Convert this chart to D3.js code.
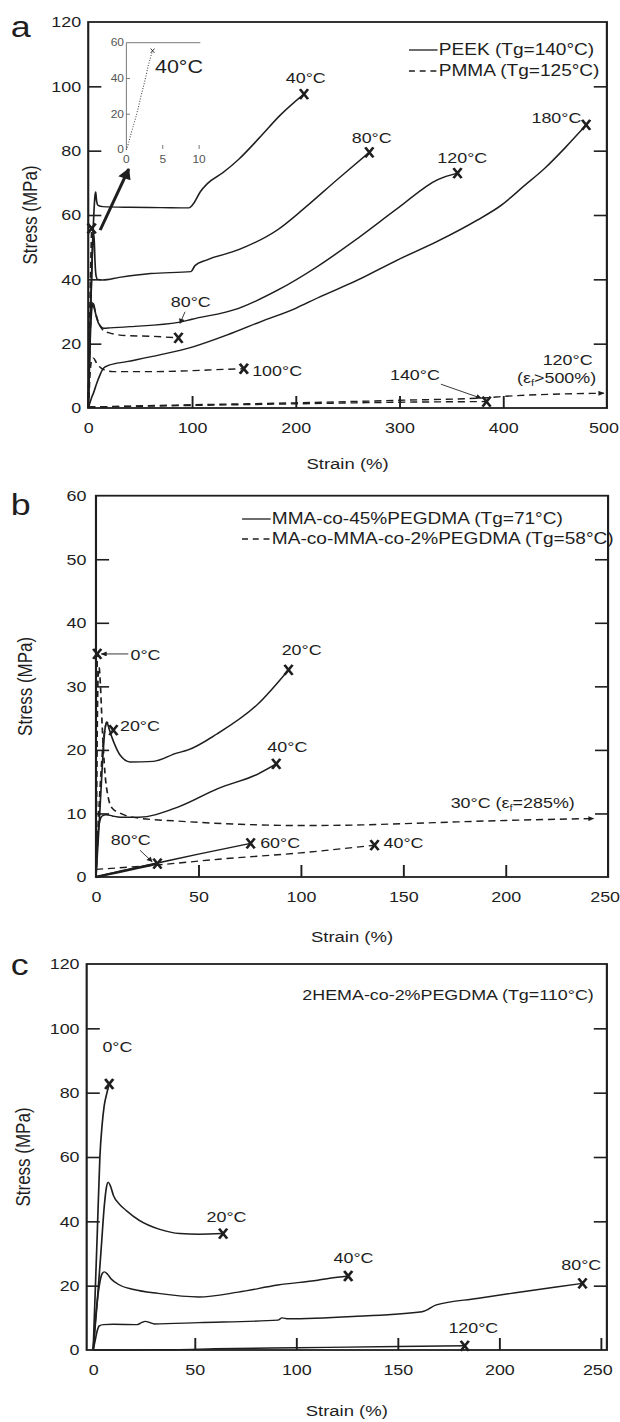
<!DOCTYPE html>
<html>
<head>
<meta charset="utf-8">
<script src="https://cdn.jsdelivr.net/npm/d3@7"></script>
<style>
  html, body { margin: 0; padding: 0; background: #fff; }
  svg { display: block; }
</style>
</head>
<body>
<div id="chart"></div>
<script>
// ---- panel a : PEEK (solid) and PMMA (dashed), points are [strain %, stress MPa]
const peek40 = [[0,0],[2,27],[4,50],[5.5,61],[6.5,66],[7.2,67.2],[8,64.5],[9.5,63],[14,62.6],[40,62.4],[70,62.3],[97,62.2],[102,63.8],[108,67.2],[115,69.8],[130,73.2],[145,77.3],[165,84],[185,91],[208,97.6]];
const peek80 = [[0,0],[2,27],[4,48],[5,54.5],[5.8,52],[6.6,45],[7.6,41],[9,40],[14,39.8],[30,40.6],[60,41.8],[99,42.4],[103,44.3],[114,46],[145,49.2],[183,55.5],[208,62],[240,71],[271,79.5]];
const peek120 = [[0,0],[2,22],[3.5,31],[5,32.5],[7,29.5],[10,26.3],[15,24.8],[21,24.9],[40,25.3],[87,26.6],[100,27.6],[145,31],[183,36.7],[221,44],[260,52.8],[298,62],[337,71],[356,73]];
const peek180 = [[0,0],[1,1],[3,3],[5,4.6],[8,7.5],[11,10],[14.5,12.3],[20,13.3],[37,14.4],[69,16.5],[101,19],[134,22.7],[166,26.8],[200,31],[221,34.2],[260,39.8],[298,46],[336,51.7],[375,58.4],[398,63],[420,69],[440,74.5],[460,81],[480,88]];
const pmma40 = [[0,0],[1,19],[2,38],[3.3,55.8]];
const pmma80 = [[0,0],[1.5,20],[3,31],[4,33],[5,32],[7,29.5],[10,26.5],[15,24],[21,23.3],[37,22.5],[60,22.3],[87,21.8]];
const pmma100 = [[0,0],[1,6],[2,12],[3.5,15],[5,15.5],[8,14],[12,12.5],[18,11.6],[24,11.3],[60,11.3],[100,11.6],[130,12],[150,12.2]];
const pmma120 = [[0,0.3],[100,1],[200,1.6],[300,2.4],[385,3.2],[400,3.6],[497,4.6]];
const pmma140 = [[0,0.3],[100,0.8],[200,1.3],[300,1.8],[384,2]];
const inset40 = [[0,0],[0.3,4],[0.7,10],[1.2,17],[1.6,23],[2,30],[2.5,38],[3,47],[3.6,55.5]];

// ---- panel b : MMA-co-45%PEGDMA (solid), MA-co-MMA-co-2%PEGDMA (dashed)
const mma20 = [[0,0],[1.5,8],[3,17],[4.3,23],[5.2,24.4],[6.5,23.2],[8,21.8],[9.2,20.8],[11.7,19.2],[16.6,18.1],[28,18.2],[39.4,19.5],[45,20],[59,22.5],[79,27.2],[94,32.6]];
const mma40 = [[0,0],[0.5,4],[1,7],[2,9],[3,9.6],[5,9.8],[8,9.6],[12,9.4],[21,9.4],[40,11],[59.5,13.9],[79,16.2],[88,17.8]];
const mma60 = [[0,0],[10,0.8],[30,2.2],[50,3.6],[75.5,5.3]];
const mma80 = [[0,0],[10,0.7],[20,1.4],[30,2.1]];
const ma0 = [[0,0],[0.2,14],[0.4,27],[0.6,35.1]];
const ma20 = [[0,0],[2,14],[4,22.5],[5.5,24.3],[7,23.8],[8.5,23.1]];
const ma30 = [[0,0],[0.5,20],[1,31],[1.5,33],[2.2,30],[3,24],[4.4,16.3],[6,12.5],[8,10.8],[12,10],[20,9.3],[40,8.8],[70,8.3],[100,8.1],[130,8.2],[160,8.5],[200,8.9],[243,9.2]];
const ma40 = [[0,1.2],[30,1.9],[60,2.8],[100,3.8],[136,5]];

// ---- panel c : 2HEMA-co-2%PEGDMA
const hema0 = [[0,0],[1,18],[2,36],[3.3,60],[4.4,70],[5.4,75.8],[6.8,80],[7.9,82.7]];
const hema20 = [[0,0],[2,15],[4,32],[5.5,45],[6.5,50.5],[7.4,52.2],[8.5,51],[10,48],[13,45.3],[16.4,43.3],[22.7,40.3],[32.8,37.5],[42.7,36.2],[52,36],[64,36.2]];
const hema40 = [[0,0],[1.5,12],[3,20],[4.5,23.8],[5.5,24.3],[7,23.6],[9,22],[13,20.2],[20,18.8],[32,17.6],[52,16.5],[71.5,18],[91,20.2],[110.6,21.7],[116.5,22.3],[125.6,23]];
const hema80 = [[0,0],[1,3],[2,6],[3,7.5],[5,7.9],[10,8],[21.7,7.9],[24,8.6],[25.6,8.9],[28,8.5],[30,8.1],[52,8.5],[91,9.3],[93,10],[96,9.7],[130,10.5],[162,11.9],[169,14],[189,16],[208,17.8],[228,19.6],[241,20.7]];
const hema120 = [[0,0],[40,0.1],[60,0.4],[100,0.7],[150,1.1],[183,1.3]];

// tick values
const xLabelsA = [0,100,200,300,400,500], yLabelsA = [0,20,40,60,80,100,120];
const xTicksA = [100,200,300,400], yTicksA = [20,40,60,80,100];
const xLabelsB = [0,50,100,150,200,250], yLabelsB = [0,10,20,30,40,50,60];
const xTicksB = [50,100,150,200], yTicksB = [10,20,30,40,50];
const xLabelsC = [0,50,100,150,200,250], yLabelsC = [0,20,40,60,80,100,120];
const xTicksC = [50,100,150,200,250], yTicksC = [20,40,60,80,100];
const insetX = [0,5,10], insetY = [0,20,40,60];

// the figure is drawn 520 wide and stretched to 620, like the source scan
const W = 520, H = 1422;
const FONT = "'Liberation Sans', Arial, Helvetica, sans-serif";
const INK = "#1e1e1e";

const svg = d3.select("#chart").append("svg")
  .attr("width", 620).attr("height", H)
  .attr("viewBox", `0 0 ${W} ${H}`)
  .attr("preserveAspectRatio", "none")
  .style("font-family", FONT);

svg.append("rect").attr("width", W).attr("height", H).attr("fill", "#fff");

const defs = svg.append("defs");
function arrowMarker(id, w, h) {
  defs.append("marker")
    .attr("id", id)
    .attr("viewBox", "0 0 10 10")
    .attr("refX", 9).attr("refY", 5)
    .attr("markerWidth", w).attr("markerHeight", h)
    .attr("markerUnits", "userSpaceOnUse")
    .attr("orient", "auto")
    .append("path").attr("d", "M0,0L10,5L0,10z").attr("fill", INK);
}
arrowMarker("ah", 7, 5);
arrowMarker("ahBig", 13, 11);

function panel(o) {
  const x = d3.scaleLinear().domain(o.xd).range([o.l, o.r]);
  const y = d3.scaleLinear().domain(o.yd).range([o.b, o.t]);
  const g = svg.append("g");

  const styleAxis = sel => {
    sel.select(".domain").remove();
    sel.selectAll("text").style("font-family", FONT).style("font-size", "15px").attr("fill", INK);
    sel.selectAll("line").attr("stroke", INK).attr("stroke-width", 1.6);
  };
  // tick labels
  g.append("g").attr("transform", `translate(${o.l},0)`)
    .call(d3.axisLeft(y).tickValues(o.yl).tickSize(0).tickPadding(o.yPad))
    .call(styleAxis);
  const xa = g.append("g").attr("transform", `translate(0,${o.b})`)
    .call(d3.axisBottom(x).tickValues(o.xl).tickSize(0).tickPadding(14))
    .call(styleAxis);
  // last label sits on the figure edge, keep it inside
  xa.selectAll(".tick:last-of-type text").attr("dx", -3);

  // inward ticks
  g.append("g").attr("transform", `translate(${o.l},0)`)
    .call(d3.axisLeft(y).tickValues(o.yt).tickSizeInner(-11).tickSizeOuter(0).tickFormat(""))
    .call(styleAxis);
  g.append("g").attr("transform", `translate(${o.r},0)`)
    .call(d3.axisRight(y).tickValues(o.yt).tickSizeInner(-11).tickSizeOuter(0).tickFormat(""))
    .call(styleAxis);
  g.append("g").attr("transform", `translate(0,${o.b})`)
    .call(d3.axisBottom(x).tickValues(o.xt).tickSizeInner(-12).tickSizeOuter(0).tickFormat(""))
    .call(styleAxis);

  g.append("rect")
    .attr("x", o.l).attr("y", o.t)
    .attr("width", o.r - o.l).attr("height", o.b - o.t)
    .attr("fill", "none").attr("stroke", INK).attr("stroke-width", 1.8);

  g.append("text")
    .attr("x", (o.l + o.r) / 2).attr("y", o.b + o.xtOff)
    .attr("text-anchor", "middle").attr("font-size", 15.5).attr("fill", INK)
    .text("Strain (%)");
  g.append("text")
    .attr("transform", `translate(${o.ytX},${(o.t + o.b) / 2}) rotate(-90)`)
    .attr("text-anchor", "middle").attr("font-size", 17).attr("fill", INK)
    .text("Stress (MPa)");
  g.append("text")
    .attr("x", 9).attr("y", o.letterY)
    .attr("font-size", 30).attr("fill", INK)
    .text(o.letter);

  const line = d3.line().x(d => x(d[0])).y(d => y(d[1])).curve(d3.curveMonotoneX);
  return { g, x, y, line };
}

function curve(p, data, dashed, opts = {}) {
  const path = p.g.append("path")
    .datum(data)
    .attr("d", p.line)
    .attr("fill", "none")
    .attr("stroke", INK)
    .attr("stroke-width", opts.w || 1.4)
    .attr("stroke-dasharray", dashed ? "6,4" : null);
  if (opts.arrow) path.attr("marker-end", "url(#ah)");
  if (!opts.arrow && opts.mark !== false) {
    const last = data[data.length - 1];
    xMark(p.g, p.x(last[0]), p.y(last[1]));
  }
  return path;
}

function xMark(g, px, py, rx = 3.4, ry = 5, w = 2.3) {
  g.append("path")
    .attr("d", `M${px - rx},${py - ry}L${px + rx},${py + ry}M${px + rx},${py - ry}L${px - rx},${py + ry}`)
    .attr("stroke", INK).attr("stroke-width", w).attr("fill", "none");
}

function label(g, px, py, txt, anchor = "start", size = 15) {
  return g.append("text")
    .attr("x", px).attr("y", py)
    .attr("text-anchor", anchor)
    .attr("font-size", size).attr("fill", INK)
    .text(txt);
}

function subLabel(g, px, py, pre, post, anchor, size = 15) {
  const t = g.append("text")
    .attr("x", px).attr("y", py)
    .attr("text-anchor", anchor)
    .attr("font-size", size).attr("fill", INK);
  t.append("tspan").text(pre);
  t.append("tspan").attr("font-size", size * 0.62).attr("dy", 3).text("f");
  t.append("tspan").attr("dy", -3).text(post);
  return t;
}

function arrow(p, from, to, big = false) {
  p.g.append("line")
    .attr("x1", p.x(from[0])).attr("y1", p.y(from[1]))
    .attr("x2", p.x(to[0])).attr("y2", p.y(to[1]))
    .attr("stroke", INK)
    .attr("stroke-width", big ? 2.6 : 0.8)
    .attr("marker-end", big ? "url(#ahBig)" : "url(#ah)");
}

function legendRow(g, x0, yy, dashed, txt, size) {
  g.append("line")
    .attr("x1", x0).attr("x2", x0 + 24).attr("y1", yy).attr("y2", yy)
    .attr("stroke", INK).attr("stroke-width", 1.3)
    .attr("stroke-dasharray", dashed ? "5,4" : null);
  label(g, x0 + 25, yy + 5.5, txt, "start", size);
}

// =========================
// PANEL A
// =========================
const pa = panel({
  xd: [0, 500], yd: [0, 120], l: 74, r: 509, t: 22, b: 408,
  xl: xLabelsA, yl: yLabelsA, xt: xTicksA, yt: yTicksA,
  yPad: 6, xtOff: 61, ytX: 31, letter: "a", letterY: 37
});

[peek40, peek80, peek120, peek180].forEach(d => curve(pa, d, false));
[pmma40, pmma80, pmma100, pmma140].forEach(d => curve(pa, d, true));
curve(pa, pmma120, true, { arrow: true });

label(pa.g, pa.x(208) + 1.5, pa.y(97.6) - 11, "40°C", "middle");
label(pa.g, pa.x(271) + 2, pa.y(79.5) - 9, "80°C", "middle");
label(pa.g, pa.x(356) + 4, pa.y(73) - 10, "120°C", "middle");
label(pa.g, pa.x(480) - 4, pa.y(88) - 2, "180°C", "end");
label(pa.g, 160, 307, "80°C", "middle");
arrow(pa, [93.3, 29.9], [88.5, 26.3]);
label(pa.g, pa.x(150) + 7, pa.y(12.2) + 7, "100°C", "start");
label(pa.g, 348, 380, "140°C", "middle");
arrow(pa, [340, 7.4], [379, 3.0]);
label(pa.g, 497, 365, "120°C", "end");
subLabel(pa.g, 500, 383, "(ε", ">500%)", "end");

legendRow(pa.g, 343, 50, false, "PEEK (Tg=140°C)", 16);
legendRow(pa.g, 343, 71, true, "PMMA (Tg=125°C)", 16);

// big arrow pointing into the inset
arrow(pa, [11.5, 55.3], [39, 74.3], true);

// inset : PMMA at 40°C, first 10 % strain
const ix = d3.scaleLinear().domain([0, 10]).range([106, 167]);
const iy = d3.scaleLinear().domain([0, 60]).range([150, 42.7]);
const inset = pa.g.append("g");
inset.append("path")
  .attr("d", `M${ix(0)},${iy(0)}V${iy(60)}H${ix(10) + 1}`)
  .attr("fill", "none").attr("stroke", "#666").attr("stroke-width", 0.8);
inset.selectAll(".iyt").data(insetY.filter(v => v > 0 && v < 60)).enter().append("line")
  .attr("x1", ix(0)).attr("x2", ix(0) + 3).attr("y1", d => iy(d)).attr("y2", d => iy(d))
  .attr("stroke", "#666").attr("stroke-width", 0.8);
inset.selectAll(".ixt").data(insetX.filter(v => v > 0)).enter().append("line")
  .attr("x1", d => ix(d)).attr("x2", d => ix(d)).attr("y1", 145).attr("y2", 149)
  .attr("stroke", "#666").attr("stroke-width", 0.8);
inset.selectAll(".iyl").data(insetY).enter().append("text")
  .attr("x", ix(0) - 2).attr("y", d => iy(d) + 3.5)
  .attr("text-anchor", "end").attr("font-size", 10).attr("fill", "#555")
  .text(d => d);
inset.selectAll(".ixl").data(insetX).enter().append("text")
  .attr("x", d => ix(d)).attr("y", 163)
  .attr("text-anchor", "middle").attr("font-size", 10).attr("fill", "#555")
  .text(d => d);
inset.append("path")
  .datum(inset40)
  .attr("d", d3.line().x(d => ix(d[0])).y(d => iy(d[1])).curve(d3.curveMonotoneX))
  .attr("fill", "none").attr("stroke", "#444").attr("stroke-width", 0.9)
  .attr("stroke-dasharray", "1,1.6");
{
  const last = inset40[inset40.length - 1];
  xMark(inset, ix(last[0]), iy(last[1]), 1.6, 2.2, 0.8);
}
label(inset, 130, 73, "40°C", "start", 18);

// =========================
// PANEL B
// =========================
const pb = panel({
  xd: [0, 250], yd: [0, 60], l: 80.5, r: 510, t: 495.7, b: 877,
  xl: xLabelsB, yl: yLabelsB, xt: xTicksB, yt: yTicksB,
  yPad: 8, xtOff: 65, ytX: 27, letter: "b", letterY: 515
});

[mma20, mma40, mma60].forEach(d => curve(pb, d, false));
curve(pb, mma80, false, { w: 2.4 });
[ma0, ma20, ma40].forEach(d => curve(pb, d, true));
curve(pb, ma30, true, { arrow: true });

label(pb.g, 109.4, 660, "0°C");
arrow(pb, [15.8, 35.1], [2.6, 35.1]);
label(pb.g, pb.x(8.5) + 5.5, pb.y(23.1) + 1, "20°C");
label(pb.g, 253, 655, "20°C", "middle");
label(pb.g, 241, 752, "40°C", "middle");
label(pb.g, pb.x(75.5) + 8, pb.y(5.3) + 4.5, "60°C");
label(pb.g, pb.x(136) + 7.5, pb.y(5) + 3, "40°C");
subLabel(pb.g, 378, 808, "30°C (ε", "=285%)", "start");
label(pb.g, 109.7, 845, "80°C", "middle");
arrow(pb, [21.5, 4.2], [27.4, 2.4]);

legendRow(pb.g, 203, 519, false, "MMA-co-45%PEGDMA (Tg=71°C)", 16);
legendRow(pb.g, 203, 539, true, "MA-co-MMA-co-2%PEGDMA (Tg=58°C)", 16);

// =========================
// PANEL C
// =========================
const pc = panel({
  xd: [-3.2, 253], yd: [0, 120], l: 72.7, r: 509, t: 964, b: 1350,
  xl: xLabelsC, yl: yLabelsC, xt: xTicksC, yt: yTicksC,
  yPad: 6, xtOff: 66, ytX: 25, letter: "c", letterY: 975
});

[hema0, hema20, hema40, hema80, hema120].forEach(d => curve(pc, d, false));

label(pc.g, 98.5, 1052, "0°C", "middle");
label(pc.g, 190, 1222, "20°C", "middle");
label(pc.g, 296.5, 1263, "40°C", "middle");
label(pc.g, 487.5, 1270, "80°C", "middle");
label(pc.g, 397, 1333, "120°C", "middle");
label(pc.g, 498, 1000, "2HEMA-co-2%PEGDMA (Tg=110°C)", "end", 15);
</script>
</body>
</html>
